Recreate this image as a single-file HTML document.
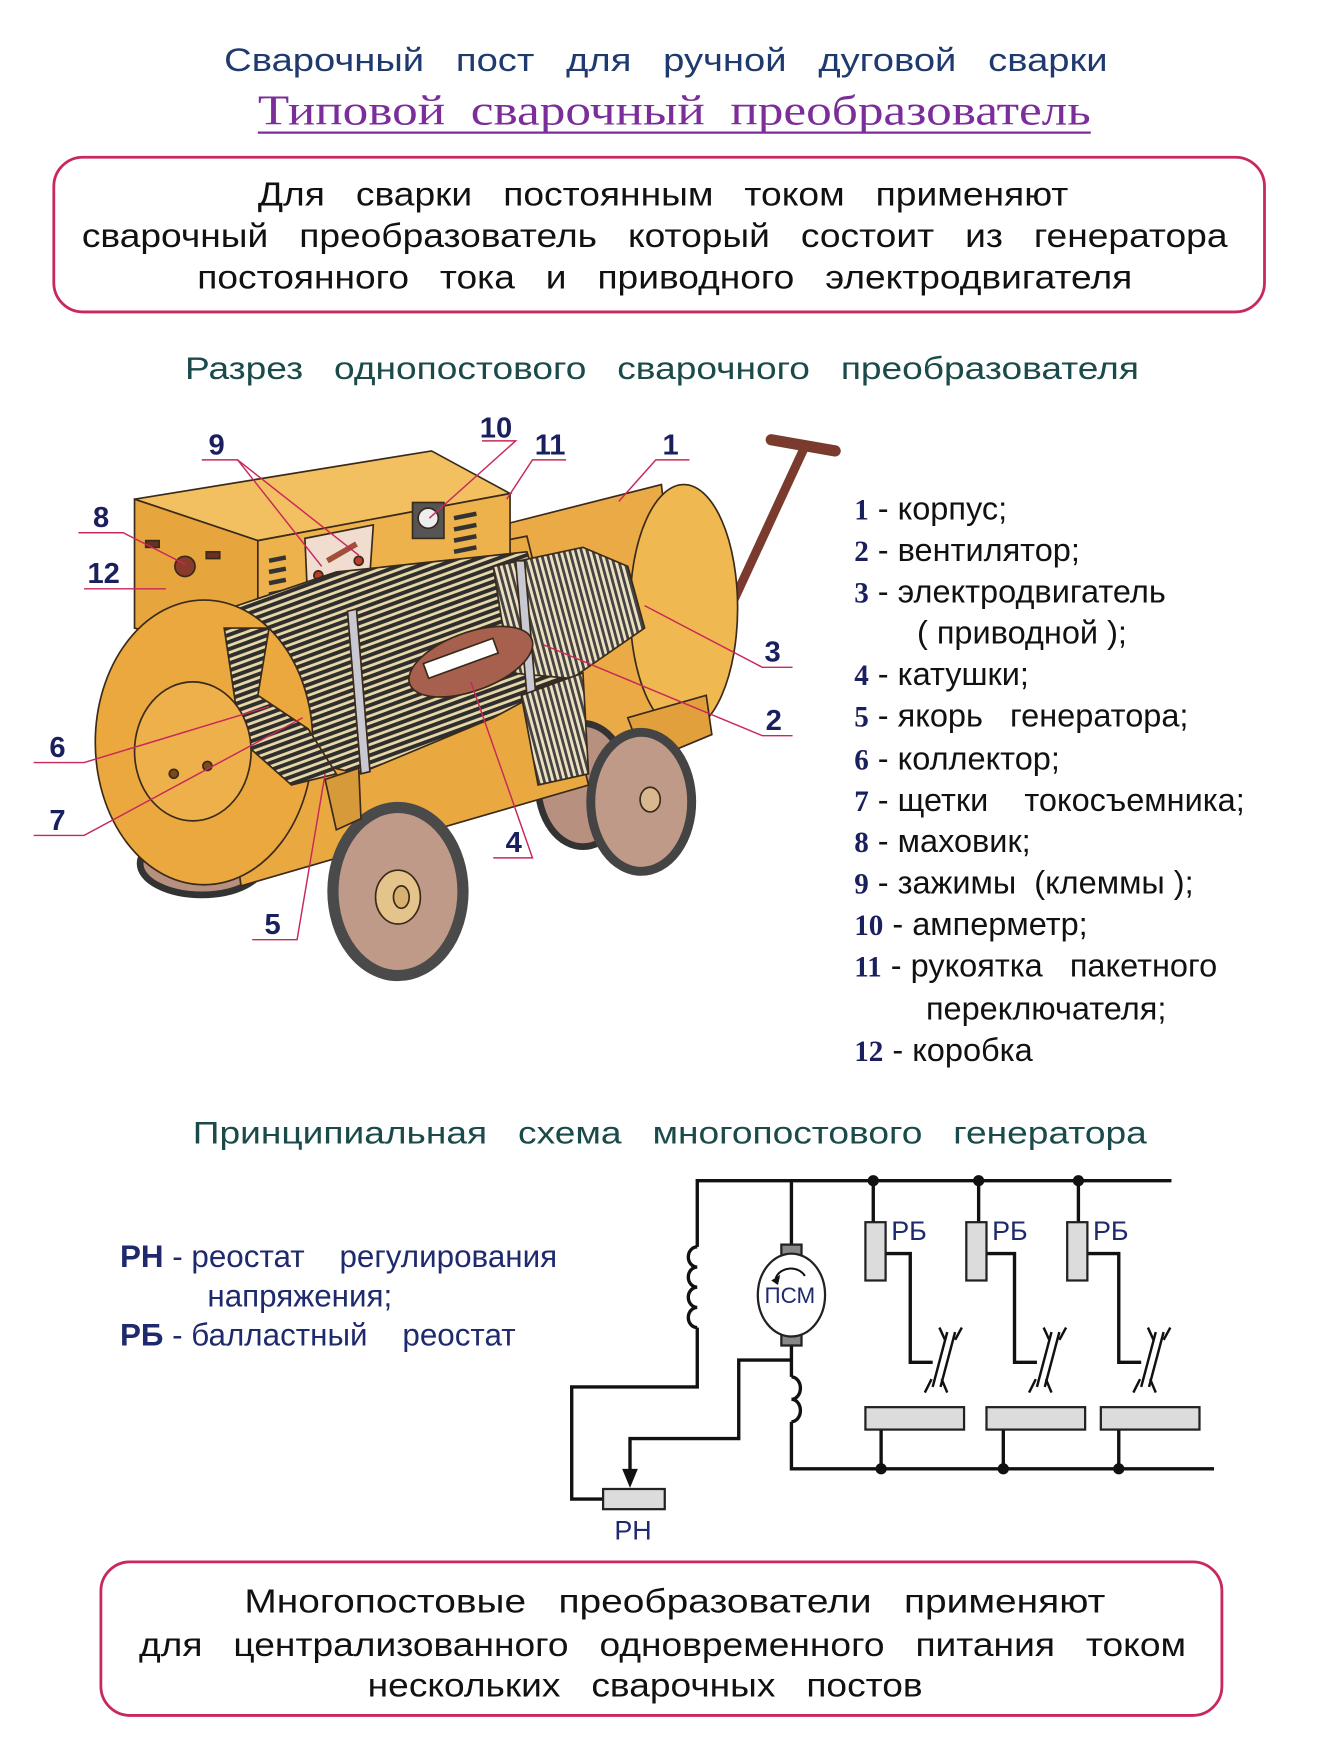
<!DOCTYPE html>
<html><head><meta charset="utf-8"><style>
html,body{margin:0;padding:0;background:#fff;}
svg{display:block;white-space:pre;}
text{font-family:"Liberation Sans",sans-serif;white-space:pre;}
.t{fill:#111;font-size:30px;}
.n{font-family:"Liberation Serif",serif;font-weight:bold;fill:#1a1f5e;font-size:26px;}
.lg{fill:#111;font-size:29px;}
.ld{stroke:#c8285a;stroke-width:1.3;fill:none;}
.w{stroke:#111;stroke-width:3;fill:none;}
</style></head><body>
<svg width="1334" height="1746" viewBox="0 0 1190 1557" xmlns="http://www.w3.org/2000/svg" xml:space="preserve">
<defs>
<pattern id="st" width="6" height="6" patternUnits="userSpaceOnUse" patternTransform="rotate(-20)">
<rect width="6" height="6" fill="#e8d8a8"/><rect width="6" height="3.5" fill="#2e2e2e"/></pattern>
<pattern id="st2" width="5" height="5" patternUnits="userSpaceOnUse" patternTransform="rotate(75)">
<rect width="5" height="5" fill="#ece0c0"/><rect width="5" height="2.5" fill="#444"/></pattern>
</defs>
<rect width="1190" height="1557" fill="#fff"/>
<text x="200" y="63" font-size="29" fill="#1f3a6e" textLength="788" lengthAdjust="spacingAndGlyphs">Сварочный   пост   для   ручной   дуговой   сварки</text>
<text x="230" y="111" font-size="38" fill="#7b2d9a" textLength="743" lengthAdjust="spacingAndGlyphs" style="font-family:'Liberation Serif',serif">Типовой  сварочный  преобразователь</text>
<line x1="230" y1="118" x2="973" y2="118" stroke="#7b2d9a" stroke-width="2"/>
<rect x="48" y="140" width="1080" height="138" rx="26" fill="none" stroke="#c8285a" stroke-width="2.5"/>
<text class="t" x="230" y="183" textLength="723" lengthAdjust="spacingAndGlyphs">Для   сварки   постоянным   током   применяют</text>
<text class="t" x="73" y="220" textLength="1022" lengthAdjust="spacingAndGlyphs">сварочный   преобразователь   который   состоит   из   генератора</text>
<text class="t" x="176" y="257" textLength="834" lengthAdjust="spacingAndGlyphs">постоянного   тока   и   приводного   электродвигателя</text>
<text x="165" y="338" font-size="28" fill="#1a4a4a" textLength="851" lengthAdjust="spacingAndGlyphs">Разрез   однопостового   сварочного   преобразователя</text>

<g stroke="#3a2a1a" stroke-width="1.5">
<line x1="650" y1="545" x2="718" y2="398" stroke="#7a3b2e" stroke-width="8"/>
<line x1="688" y1="392" x2="745" y2="402" stroke="#7a3b2e" stroke-width="10" stroke-linecap="round"/>
<path d="M440 470 L590 432 L615 650 L470 690 Z" fill="#eaaa45"/>
<ellipse cx="610" cy="542" rx="48" ry="110" fill="#f0b850"/>
<path d="M560 640 L630 620 L635 655 L575 680 Z" fill="#e2a03c"/>
<ellipse cx="520" cy="700" rx="40" ry="55" fill="#b89080" stroke="#333" stroke-width="6"/>
<ellipse cx="572" cy="715" rx="45" ry="62" fill="#c09a88" stroke="#444" stroke-width="8"/>
<ellipse cx="580" cy="713" rx="9" ry="11" fill="#d9b890"/>
<ellipse cx="180" cy="770" rx="55" ry="28" fill="#b89080" stroke="#333" stroke-width="6"/>
<path d="M180 535 L470 478 L525 700 L215 790 Z" fill="#e9a940"/>
<path d="M120 445 L385 402 L455 440 L230 482 Z" fill="#f2c060"/>
<path d="M120 445 L230 482 L230 590 L120 560 Z" fill="#e7a53d"/>
<path d="M230 482 L455 440 L455 545 L230 592 Z" fill="#eeb24c"/>
<g stroke="#333" stroke-width="4">
<line x1="240" y1="500" x2="255" y2="497"/><line x1="240" y1="510" x2="255" y2="507"/><line x1="240" y1="520" x2="255" y2="517"/><line x1="240" y1="530" x2="255" y2="527"/><line x1="240" y1="540" x2="255" y2="537"/>
<line x1="405" y1="462" x2="425" y2="458"/><line x1="405" y1="472" x2="425" y2="468"/><line x1="405" y1="482" x2="425" y2="478"/><line x1="405" y1="492" x2="425" y2="488"/>
</g>
<path d="M272 480 L333 468 L330 512 L274 525 Z" fill="#f0ddd0"/>
<line x1="292" y1="500" x2="318" y2="485" stroke="#a0503a" stroke-width="5"/>
<circle cx="284" cy="513" r="4" fill="#c03a2a"/><circle cx="320" cy="500" r="4" fill="#c03a2a"/>
<rect x="368" y="448" width="28" height="32" fill="#555"/><circle cx="382" cy="462" r="9" fill="#eee"/>
<circle cx="165" cy="505" r="9" fill="#8a3a2a"/>
<rect x="130" y="482" width="12" height="6" fill="#6a3020"/><rect x="184" y="492" width="12" height="6" fill="#6a3020"/>
<path d="M188 548 L300 510 L470 492 L505 605 L440 640 L320 690 L225 668 Z" fill="url(#st)"/>
<path d="M440 505 L520 488 L560 505 L575 560 L510 605 L455 600 Z" fill="url(#st2)"/>
<path d="M460 500 L470 620 L478 620 L468 500 Z" fill="#c9c9d4"/>
<path d="M310 545 L322 690 L330 688 L318 543 Z" fill="#c9c9d4"/>
<ellipse cx="420" cy="590" rx="58" ry="26" transform="rotate(-20 420 590)" fill="#a8604e"/>
<rect x="378" y="580" width="66" height="14" transform="rotate(-20 411 587)" fill="#fff"/>
<path d="M465 620 L520 600 L525 690 L480 700 Z" fill="url(#st2)"/>
<ellipse cx="182" cy="662" rx="97" ry="127" fill="#eaa83e"/>
<path d="M200 560 L240 560 L230 620 L275 650 L300 690 L260 700 L215 660 Z" fill="url(#st)"/>
<ellipse cx="172" cy="670" rx="52" ry="62" fill="#edb04a"/>
<circle cx="155" cy="690" r="4" fill="#7a4a1a"/><circle cx="185" cy="683" r="4" fill="#7a4a1a"/>
<ellipse cx="355" cy="795" rx="58" ry="75" fill="#c09a88" stroke="#4a4a4a" stroke-width="10"/>
<ellipse cx="355" cy="800" rx="20" ry="24" fill="#e5c48c"/>
<ellipse cx="358" cy="800" rx="7" ry="10" fill="#d8b070"/>
<path d="M290 695 L320 685 L322 730 L300 740 Z" fill="#d79a3a"/>
</g>
<g class="ld">
<polyline points="180,410 212,410 287,505"/><line x1="212" y1="410" x2="320" y2="495"/>
<polyline points="430,393 460,393 383,462"/>
<polyline points="505,410 475,410 452,445"/>
<polyline points="615,410 585,410 552,447"/>
<polyline points="70,475 110,475 165,503"/>
<line x1="75" y1="525" x2="148" y2="525"/>
<polyline points="707,595 680,595 575,540"/>
<polyline points="707,656 680,656 485,575"/>
<polyline points="30,680 75,680 240,630"/>
<polyline points="30,745 75,745 270,640"/>
<polyline points="440,765 475,765 420,608"/>
<polyline points="225,838 265,838 290,690"/>
</g>
<g class="n">
<text x="186" y="405">9</text><text x="428" y="390">10</text><text x="477" y="405">11</text><text x="591" y="405">1</text>
<text x="83" y="470">8</text><text x="78" y="520">12</text><text x="682" y="590">3</text><text x="683" y="651">2</text>
<text x="44" y="675">6</text><text x="44" y="740">7</text><text x="451" y="760">4</text><text x="236" y="833">5</text>
</g>

<g class="lg">
<text x="762" y="463"><tspan class="n" font-size="29">1</tspan> - корпус;</text>
<text x="762" y="500"><tspan class="n" font-size="29">2</tspan> - вентилятор;</text>
<text x="762" y="537"><tspan class="n" font-size="29">3</tspan> - электродвигатель</text>
<text x="818" y="574">( приводной );</text>
<text x="762" y="611"><tspan class="n" font-size="29">4</tspan> - катушки;</text>
<text x="762" y="648"><tspan class="n" font-size="29">5</tspan> - якорь   генератора;</text>
<text x="762" y="686"><tspan class="n" font-size="29">6</tspan> - коллектор;</text>
<text x="762" y="723"><tspan class="n" font-size="29">7</tspan> - щетки    токосъемника;</text>
<text x="762" y="760"><tspan class="n" font-size="29">8</tspan> - маховик;</text>
<text x="762" y="797"><tspan class="n" font-size="29">9</tspan> - зажимы  (клеммы );</text>
<text x="762" y="834"><tspan class="n" font-size="29">10</tspan> - амперметр;</text>
<text x="762" y="871"><tspan class="n" font-size="29">11</tspan> - рукоятка   пакетного</text>
<text x="826" y="909">переключателя;</text>
<text x="762" y="946"><tspan class="n" font-size="29">12</tspan> - коробка</text>
</g>

<text x="172" y="1020" font-size="28" fill="#1a4a4a" textLength="851" lengthAdjust="spacingAndGlyphs">Принципиальная   схема   многопостового   генератора</text>
<g font-size="28" fill="#1f2a6e">
<text x="107" y="1130"><tspan font-weight="bold">РН</tspan> - реостат    регулирования</text>
<text x="185" y="1165">напряжения;</text>
<text x="107" y="1200"><tspan font-weight="bold">РБ</tspan> - балластный    реостат</text>
</g>

<g class="w">
<polyline points="1045,1053 622,1053 622,1112"/>
<path d="M622 1112 a8 9 0 0 0 0 18 a8 9 0 0 0 0 18 a8 9 0 0 0 0 18 a8 9 0 0 0 0 18"/>
<polyline points="622,1184 622,1237 510,1237 510,1337 538,1337"/>
<line x1="706" y1="1053" x2="706" y2="1110"/>
<polyline points="706,1200 706,1228"/>
<path d="M706 1228 a8 10 0 0 1 0 20 a8 10 0 0 1 0 20"/>
<polyline points="706,1268 706,1310 1083,1310"/>
<polyline points="706,1213 659,1213 659,1283 562,1283 562,1312"/>
<line x1="779" y1="1053" x2="779" y2="1090"/><line x1="873" y1="1053" x2="873" y2="1090"/><line x1="962" y1="1053" x2="962" y2="1090"/>
<polyline points="790,1118 812,1118 812,1215 832,1215"/>
<polyline points="880,1118 905,1118 905,1215 925,1215"/>
<polyline points="970,1118 998,1118 998,1215 1018,1215"/>
<line x1="786" y1="1265" x2="786" y2="1310"/><line x1="895" y1="1265" x2="895" y2="1310"/><line x1="998" y1="1265" x2="998" y2="1310"/>
</g>
<polygon points="555,1310 569,1310 562,1327" fill="#111"/>
<g fill="#111">
<circle cx="779" cy="1053" r="5"/><circle cx="873" cy="1053" r="5"/><circle cx="962" cy="1053" r="5"/>
<circle cx="786" cy="1310" r="5"/><circle cx="895" cy="1310" r="5"/><circle cx="998" cy="1310" r="5"/>
</g>
<g stroke="#111" stroke-width="2.2" fill="none">
<g id="cb"><line x1="845" y1="1188" x2="832" y2="1237"/><line x1="852" y1="1188" x2="839" y2="1237"/>
<polyline points="838,1184 843,1195"/><polyline points="858,1184 852,1195"/><polyline points="825,1242 831,1230"/><polyline points="845,1242 840,1230"/></g>
<use href="#cb" x="93"/><use href="#cb" x="186"/>
</g>
<g fill="#dcdcdc" stroke="#222" stroke-width="2">
<rect x="772" y="1090" width="18" height="52"/><rect x="862" y="1090" width="18" height="52"/><rect x="952" y="1090" width="18" height="52"/>
<rect x="772" y="1255" width="88" height="20"/><rect x="880" y="1255" width="88" height="20"/><rect x="982" y="1255" width="88" height="20"/>
<rect x="538" y="1328" width="55" height="18"/>
<rect x="697" y="1110" width="18" height="14" fill="#888"/><rect x="697" y="1186" width="18" height="14" fill="#888"/>
<ellipse cx="706" cy="1155" rx="30" ry="37" fill="#fff"/>
</g>
<path d="M718 1138 A14 12 0 0 0 692 1140" stroke="#111" stroke-width="1.8" fill="none"/>
<polygon points="688,1142 696,1137 694,1146" fill="#111"/>
<g font-size="24" fill="#1f2a6e">
<text x="682" y="1162" font-size="20">ПСМ</text>
<text x="795" y="1106">РБ</text><text x="885" y="1106">РБ</text><text x="975" y="1106">РБ</text>
<text x="548" y="1373">РН</text>
</g>

<rect x="90" y="1393" width="1000" height="137" rx="26" fill="none" stroke="#c8285a" stroke-width="2.5"/>
<text class="t" x="218" y="1438" textLength="768" lengthAdjust="spacingAndGlyphs">Многопостовые   преобразователи   применяют</text>
<text class="t" x="124" y="1477" textLength="934" lengthAdjust="spacingAndGlyphs">для   централизованного   одновременного   питания   током</text>
<text class="t" x="328" y="1513" textLength="495" lengthAdjust="spacingAndGlyphs">нескольких   сварочных   постов</text>
</svg>
</body></html>
